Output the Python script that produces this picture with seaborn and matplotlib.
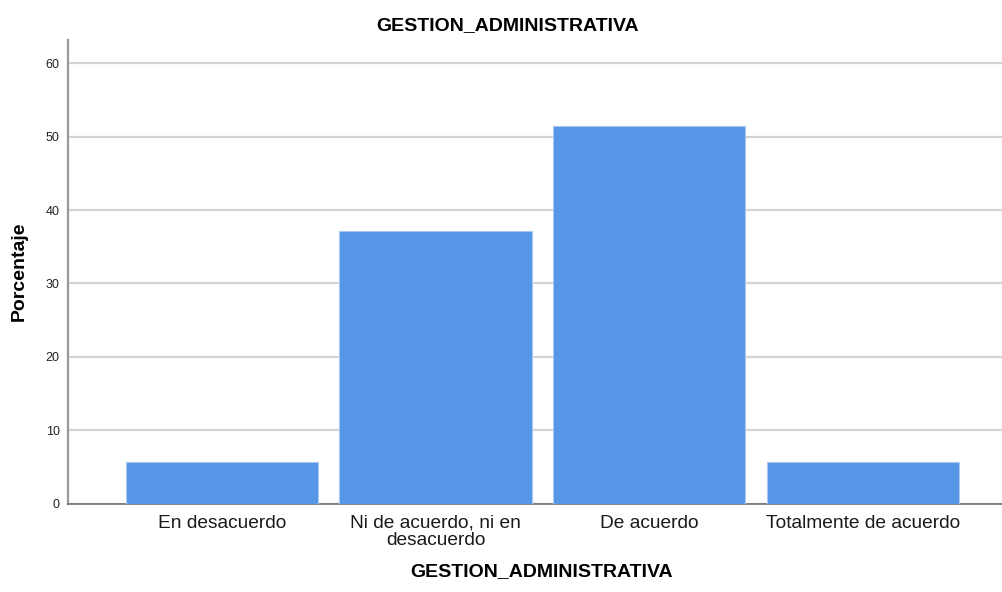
import matplotlib
matplotlib.use("Agg")
import matplotlib.pyplot as plt
import seaborn as sns
import pandas as pd

# percentages (n = 35)
categorias = ["En desacuerdo", "Ni de acuerdo, ni en\ndesacuerdo", "De acuerdo", "Totalmente de acuerdo"]
porcentaje = [5.71, 37.14, 51.43, 5.71]
yticks = [0, 10, 20, 30, 40, 50, 60]

df = pd.DataFrame({"cat": categorias, "pct": porcentaje})

sns.set_style("white")
plt.rcParams['font.family'] = ['Liberation Sans', 'DejaVu Sans']

fig = plt.figure(figsize=(10.03, 5.92), dpi=100)
ax = fig.add_axes([68 / 1003, 1 - 503.5 / 592, 1 - 68 / 1003, (503.5 - 40) / 592])

sns.barplot(data=df, x="cat", y="pct", color="#5596e6", saturation=1, width=0.9,
            edgecolor="#a9c8f2", linewidth=0.8, ax=ax, zorder=3)

ax.set_xlim(-0.72, 3.655)
ax.set_ylim(0, 63.2)
ax.set_yticks(yticks)
ax.set_yticklabels([str(v) for v in yticks], fontsize=9, color="#222222")
ax.tick_params(axis="x", labelsize=13.8, colors="#1a1a1a", length=0, pad=8)
ax.tick_params(axis="y", length=0, pad=6)
for lbl in ax.get_xticklabels():
    lbl.set_linespacing(1.0)

ax.grid(axis="y", color="#d4d4d4", linewidth=1.6, zorder=0)
ax.set_axisbelow(True)
for side in ["top", "right"]:
    ax.spines[side].set_visible(False)
ax.spines["left"].set_color("#9a9a9a")
ax.spines["left"].set_linewidth(1.6)
ax.spines["bottom"].set_color("#707070")
ax.spines["bottom"].set_linewidth(1.2)

ax.set_xlabel("")
ax.set_ylabel("")
fig.text(508 / 1003, 1 - 26 / 592, "GESTION_ADMINISTRATIVA", ha="center", va="center",
         fontsize=14, fontweight="bold", color="black")
fig.text(541.5 / 1003, 1 - 572 / 592, "GESTION_ADMINISTRATIVA", ha="center", va="center",
         fontsize=14, fontweight="bold", color="black")
fig.text(19 / 1003, 1 - 271 / 592, "Porcentaje", ha="center", va="center", rotation=90,
         fontsize=14, fontweight="bold", color="black")

fig.savefig("out.png", dpi=100)
